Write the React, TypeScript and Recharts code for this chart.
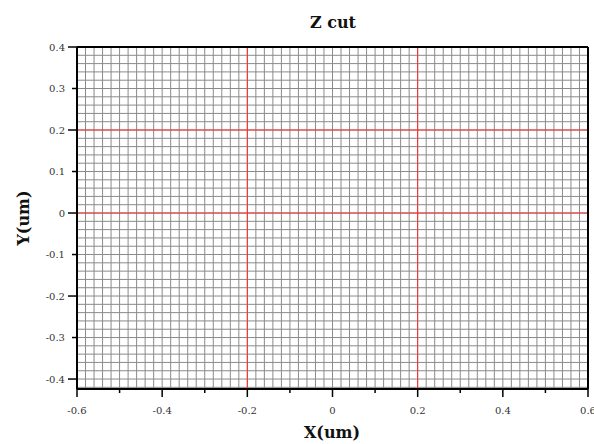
import { CartesianGrid, ComposedChart, ReferenceLine, XAxis, YAxis } from 'recharts';

const xTicks = [-0.6, -0.5, -0.4, -0.3, -0.2, -0.1, 0, 0.1, 0.2, 0.3, 0.4, 0.5, 0.6];
const xLabels = ['-0.6', '', '-0.4', '', '-0.2', '', '0', '', '0.2', '', '0.4', '', '0.6'];
const yTicks = [0.4, 0.3, 0.2, 0.1, 0, -0.1, -0.2, -0.3, -0.4];
const yLabels = ['0.4', '0.3', '0.2', '0.1', '0', '-0.1', '-0.2', '-0.3', '-0.4'];
const xDomain = [-0.6, 0.6];
const yDomain = [-0.424, 0.4];
const gridStep = 0.02;

// red cut lines
const cutRows = [0, 0.2];
const cutCols = [-0.2, 0.2];

const serif = '"DejaVu Serif", serif';

function steps(from: number, to: number, step: number) {
  const out: number[] = [];
  const n = Math.floor((to - from) / step + 1e-6);
  for (let i = 0; i <= n; i++) out.push(Number((from + i * step).toFixed(4)));
  return out;
}

const gridX = steps(-0.6, 0.6, gridStep);
const gridY = steps(-0.42, 0.4, gridStep);

function XTick(props: any) {
  const { x, y, payload } = props;
  const i = xTicks.findIndex((t) => Math.abs(t - payload.value) < 1e-6);
  const label = xLabels[i] ?? '';
  const len = label ? 8 : 4;
  return (
    <g>
      <line x1={x} y1={y} x2={x} y2={y + len} stroke="#000" strokeWidth={1.5} />
      {label ? (
        <text x={x} y={y + 25} textAnchor="middle" fontFamily={serif} fontSize={10} fill="#333">
          {label}
        </text>
      ) : null}
    </g>
  );
}

function YTick(props: any) {
  const { x, y, payload } = props;
  const i = yTicks.findIndex((t) => Math.abs(t - payload.value) < 1e-6);
  const label = yLabels[i] ?? '';
  const long = Math.round(Math.abs(payload.value) * 10) % 2 === 0;
  const len = long ? 9 : 5;
  return (
    <g>
      <line x1={x} y1={y} x2={x - len} y2={y} stroke="#000" strokeWidth={1.5} />
      <text x={x - 12} y={y + 3.5} textAnchor="end" fontFamily={serif} fontSize={10} fill="#333">
        {label}
      </text>
    </g>
  );
}

export default function App() {
  return (
    <div style={{ position: 'absolute', left: 0, top: 0, width: 594, height: 444, background: '#fff' }}>
      <ComposedChart width={594} height={444} data={[]} margin={{ top: 47, right: 6, bottom: 0, left: 0 }}>
        <CartesianGrid
          horizontalValues={gridY}
          verticalValues={gridX}
          stroke="#8a8a8a"
          strokeWidth={1}
        />
        <XAxis
          type="number"
          dataKey="x"
          domain={xDomain}
          ticks={xTicks}
          interval={0}
          allowDataOverflow
          height={55}
          tickSize={0}
          tickMargin={0}
          tickLine={false}
          axisLine={{ stroke: '#000', strokeWidth: 2 }}
          tick={XTick}
        />
        <YAxis
          type="number"
          dataKey="y"
          domain={yDomain}
          ticks={yTicks}
          interval={0}
          allowDataOverflow
          width={77}
          tickSize={0}
          tickMargin={0}
          tickLine={false}
          axisLine={{ stroke: '#000', strokeWidth: 2 }}
          tick={YTick}
        />
        {cutRows.map((v) => (
          <ReferenceLine key={'r' + v} y={v} stroke="#ff2a2a" strokeWidth={1} />
        ))}
        {cutCols.map((v) => (
          <ReferenceLine key={'c' + v} x={v} stroke="#ff2a2a" strokeWidth={1} />
        ))}
        <ReferenceLine y={0.4} stroke="#000" strokeWidth={2} />
        <ReferenceLine x={0.6} stroke="#000" strokeWidth={2} />
      </ComposedChart>
      <div
        style={{
          position: 'absolute',
          left: 0,
          top: 0,
          width: 594,
          height: 444,
          pointerEvents: 'none',
        }}
      >
        <svg width={594} height={444}>
          <text x={333} y={28} textAnchor="middle" fontFamily={serif} fontWeight="bold" fontSize={16} fill="#111">
            Z cut
          </text>
          <text x={332} y={438} textAnchor="middle" fontFamily={serif} fontWeight="bold" fontSize={16} fill="#111">
            X(um)
          </text>
          <text
            x={29}
            y={218}
            textAnchor="middle"
            fontFamily={serif}
            fontWeight="bold"
            fontSize={16}
            fill="#111"
            transform="rotate(-90 29 218)"
          >
            Y(um)
          </text>
        </svg>
      </div>
    </div>
  );
}
